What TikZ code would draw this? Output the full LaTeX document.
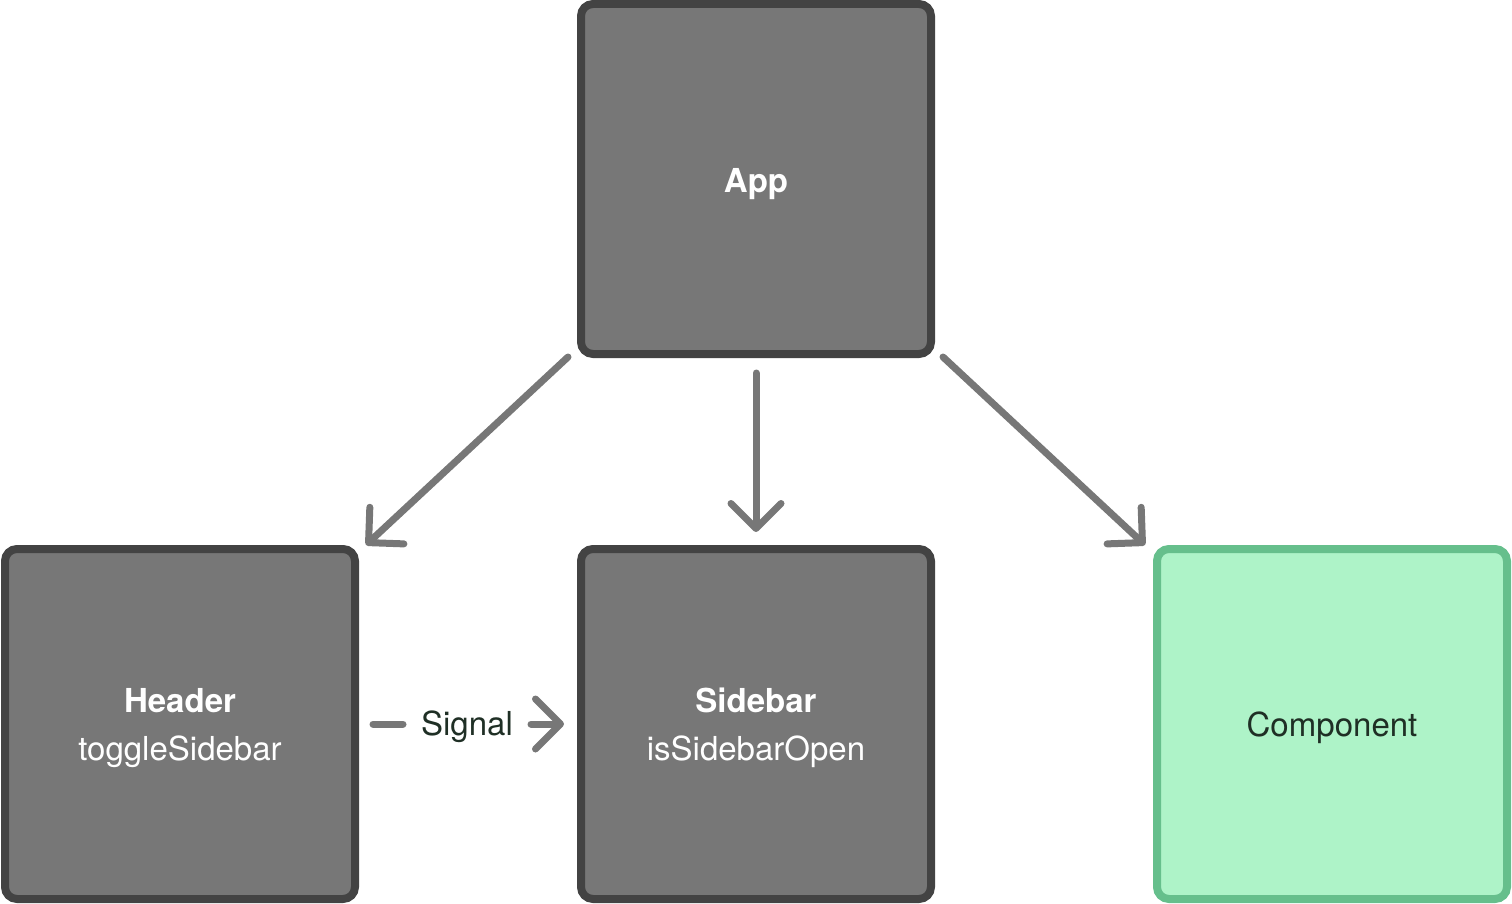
\documentclass[tikz,border=0pt]{standalone}
\usepackage{fontspec}
\setmainfont{TeX Gyre Heros}
\usetikzlibrary{arrows.meta}
\definecolor{boxfill}{HTML}{777777}
\definecolor{boxline}{HTML}{434343}
\definecolor{greenfill}{HTML}{AEF3C8}
\definecolor{greenline}{HTML}{66BF8C}
\definecolor{arrowc}{HTML}{777777}
\definecolor{darktext}{HTML}{1F2F25}
\begin{document}
\begin{tikzpicture}[x=1pt,y=-1pt,
  boxstyle/.style={draw=boxline, fill=boxfill, line width=8pt, rounded corners=12pt,
    minimum width=350pt, minimum height=350pt, inner sep=0pt},
  greenbox/.style={boxstyle, draw=greenline, fill=greenfill},
  boxtext/.style={inner sep=0pt, text=white, font=\fontsize{33}{48}\selectfont, align=center},
  greentext/.style={boxtext, text=darktext},
  conn/.style={draw=arrowc, line width=7pt, line cap=round, line join=round,
    -{Straight Barb[length=25pt, width=50pt, line cap=round, line join=round]}},
  plain/.style={draw=arrowc, line width=7pt, line cap=round}]
\useasboundingbox (0,0) rectangle (1512,904);
\node[boxstyle] (app) at (756,179) {};
\node[boxstyle] (header) at (180,724) {};
\node[boxstyle] (sidebar) at (756,724) {};
\node[greenbox] (comp) at (1332,724) {};
\node[boxtext] (appt) at ([yshift=-5pt]app.center) {\textbf{App}};
\node[boxtext] (headert) at ([yshift=-4pt]header.center) {\textbf{Header}\\toggleSidebar};
\node[boxtext] (sidebart) at ([yshift=-4pt]sidebar.center) {\textbf{Sidebar}\\isSidebarOpen};
\node[greentext] (compt) at ([yshift=-4pt]comp.center) {Component};
\node[text=darktext, font=\fontsize{33}{38}\selectfont, inner sep=0pt] (sig) at (467,727) {Signal};
\coordinate (a1s) at (568,357);
\coordinate (a1e) at (366,545);
\coordinate (a2s) at (756,373);
\coordinate (a2e) at (756,532);
\coordinate (a3s) at (943,357);
\coordinate (a3e) at (1145,545);
\coordinate (s1s) at (373,724);
\coordinate (s1e) at (403,724);
\coordinate (s2s) at (531,724);
\coordinate (s2e) at (564,724);
\draw[conn] (a1s) -- (a1e);
\draw[conn] (a2s) -- (a2e);
\draw[conn] (a3s) -- (a3e);
\draw[plain] (s1s) -- (s1e);
\draw[conn] (s2s) -- (s2e);
\end{tikzpicture}
\end{document}
